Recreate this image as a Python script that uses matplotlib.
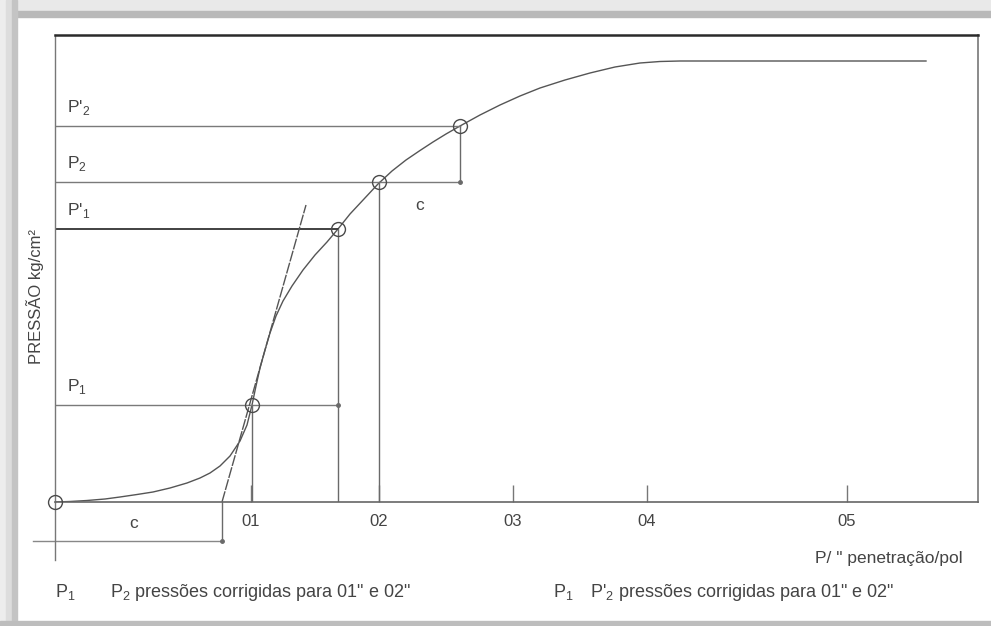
import matplotlib
matplotlib.use("Agg")
import matplotlib.pyplot as plt
from matplotlib.patches import Rectangle

plt.rcParams['font.family'] = ['Liberation Sans', 'DejaVu Sans']
plt.rcParams['mathtext.fontset'] = 'custom'
plt.rcParams['mathtext.rm'] = 'Liberation Sans'

# curve (axis units: 1 unit = 100 px from the origin)
curve_x = [0.00, 0.15, 0.32, 0.50, 0.65, 0.82, 0.98, 1.15, 1.32, 1.45, 1.55,
           1.65, 1.75, 1.85, 1.92, 1.97, 2.01, 2.05, 2.10, 2.15, 2.21, 2.28,
           2.37, 2.48, 2.60, 2.72, 2.83, 2.95, 3.09, 3.23, 3.37, 3.51, 3.65,
           3.78, 3.91, 4.05, 4.25, 4.45, 4.65, 4.85, 5.10, 5.35, 5.60, 5.85,
           6.05, 6.25, 8.71]
curve_y = [0.00, 0.005, 0.015, 0.03, 0.05, 0.075, 0.10, 0.14, 0.19, 0.24, 0.29,
           0.36, 0.46, 0.61, 0.77, 0.97, 1.16, 1.34, 1.52, 1.69, 1.86, 2.01,
           2.16, 2.32, 2.47, 2.60, 2.73, 2.88, 3.03, 3.18, 3.31, 3.42, 3.515,
           3.60, 3.68, 3.76, 3.87, 3.97, 4.06, 4.14, 4.22, 4.29, 4.35, 4.39,
           4.405, 4.41, 4.41]

# marked points (origin, P1, P'1, P2, P'2)
point_x = [0.00, 1.97, 2.83, 3.24, 4.05]
point_y = [0.00, 0.97, 2.73, 3.20, 3.76]
level_names = ["P$_\\mathrm{1}$", "P'$_\\mathrm{1}$", "P$_\\mathrm{2}$", "P'$_\\mathrm{2}$"]
level_y = [0.97, 2.73, 3.20, 3.76]
level_end = [2.83, 2.83, 4.05, 4.05]

# tangent through P1
tangent_x = [1.67, 2.51]
tangent_y = [0.00, 2.97]
c_offset = 1.67

tick_pos = [1.96, 3.24, 4.58, 5.92, 7.92]
tick_labels = ['01', '02', '03', '04', '05']

fig = plt.figure(figsize=(9.91, 6.26), dpi=100)

# screenshot frame
fig.patches.append(Rectangle((0, 1 - 11 / 626), 1, 11 / 626, transform=fig.transFigure,
                             color='#e9e9e9', zorder=-5))
fig.patches.append(Rectangle((17 / 991, 1 - 17 / 626), 1, 6 / 626, transform=fig.transFigure,
                             color='#b9b9b9', zorder=-5))
for x0, w, col in [(0, 6, '#ededed'), (6, 6, '#dddddd'), (12, 5, '#c4c4c4')]:
    fig.patches.append(Rectangle((x0 / 991, 0), w / 991, 1, transform=fig.transFigure,
                                 color=col, zorder=-5))
fig.patches.append(Rectangle((0, 0), 1, 5 / 626, transform=fig.transFigure,
                             color='#bdbdbd', zorder=-5))

ax = fig.add_axes([55 / 991, 124 / 626, 923 / 991, 467 / 626])
ax.set_xlim(0, 9.23)
ax.set_ylim(0, 4.67)
ax.set_yticks([])
ax.set_xticks(tick_pos)
ax.set_xticklabels(tick_labels)
ax.tick_params(axis='x', direction='in', length=12, width=1, color='#777777',
               pad=9, labelsize=12, labelcolor='#444444')
ax.spines['top'].set_color('#2a2a2a')
ax.spines['top'].set_linewidth(1.8)
ax.spines['left'].set_color('#777777')
ax.spines['left'].set_linewidth(1.0)
ax.spines['right'].set_color('#8a8a8a')
ax.spines['right'].set_linewidth(1.4)
ax.spines['bottom'].set_color('#666666')
ax.spines['bottom'].set_linewidth(1.2)

grey = '#6a6a6a'

# main curve
ax.plot(curve_x, curve_y, color='#555555', lw=1.0, solid_joinstyle='round')

# horizontal levels and their labels
for name, y, xe in zip(level_names, level_y, level_end):
    dark = name.startswith("P'$_\\mathrm{1}")
    ax.plot([0, xe], [y, y], color='#333333' if dark else '#7a7a7a',
            lw=1.3 if dark else 1.0)
    ax.text(0.12, y + 0.14, name, fontsize=12.5, color='#444444', va='baseline')
ax.plot([level_end[0]], [level_y[0]], 'o', ms=2.5, color=grey)
ax.plot([level_end[2]], [level_y[2]], 'o', ms=2.5, color=grey)

# vertical drops
ax.plot([point_x[1], point_x[1]], [0, point_y[1]], color=grey, lw=1.0)
ax.plot([point_x[2], point_x[2]], [0, point_y[2]], color=grey, lw=1.0)
ax.plot([point_x[3], point_x[3]], [0, point_y[3]], color=grey, lw=1.0)
ax.plot([point_x[4], point_x[4]], [point_y[3], point_y[4]], color=grey, lw=1.0)

# tangent line
ax.plot(tangent_x, tangent_y, color='#555555', lw=1.0, dashes=(8, 1.0))

# circles
ax.plot(point_x, point_y, 'o', ms=10, mfc='none', mec='#4a4a4a', mew=1.0,
        clip_on=False, zorder=5)

# correction "c"
ax.text(3.65, 2.97, 'c', fontsize=12.5, color='#444444', ha='center', va='center')
ax.plot([c_offset, c_offset], [0, -0.39], color=grey, lw=1.0, clip_on=False)
ax.plot([-0.22, c_offset], [-0.39, -0.39], color='#888888', lw=1.0, clip_on=False)
ax.plot([c_offset], [-0.39], 'o', ms=2.5, color=grey, clip_on=False)
ax.plot([0, 0], [0, -0.58], color='#777777', lw=1.0, clip_on=False)
ax.text(0.79, -0.22, 'c', fontsize=12.5, color='#444444', ha='center', va='center')

# axis labels
ax.text(-0.20, 2.05, 'PRESSÃO kg/cm²', rotation=90, fontsize=12, color='#444444',
        ha='center', va='center')
ax.text(9.08, -0.56, 'P/ " penetração/pol', fontsize=12.5, color='#444444',
        ha='right', va='center')

# footer notes
foot = 'pressões corrigidas para 01" e 02"'
ax.text(0.00, -0.95, 'P$_\\mathrm{1}$', fontsize=13, color='#444444', va='baseline')
ax.text(0.55, -0.95, 'P$_\\mathrm{2}$ ' + foot, fontsize=13, color='#444444', va='baseline')
ax.text(4.98, -0.95, 'P$_\\mathrm{1}$', fontsize=13, color='#444444', va='baseline')
ax.text(5.35, -0.95, "P'$_\\mathrm{2}$ " + foot, fontsize=13, color='#444444', va='baseline')

fig.savefig('out.png', dpi=100)
